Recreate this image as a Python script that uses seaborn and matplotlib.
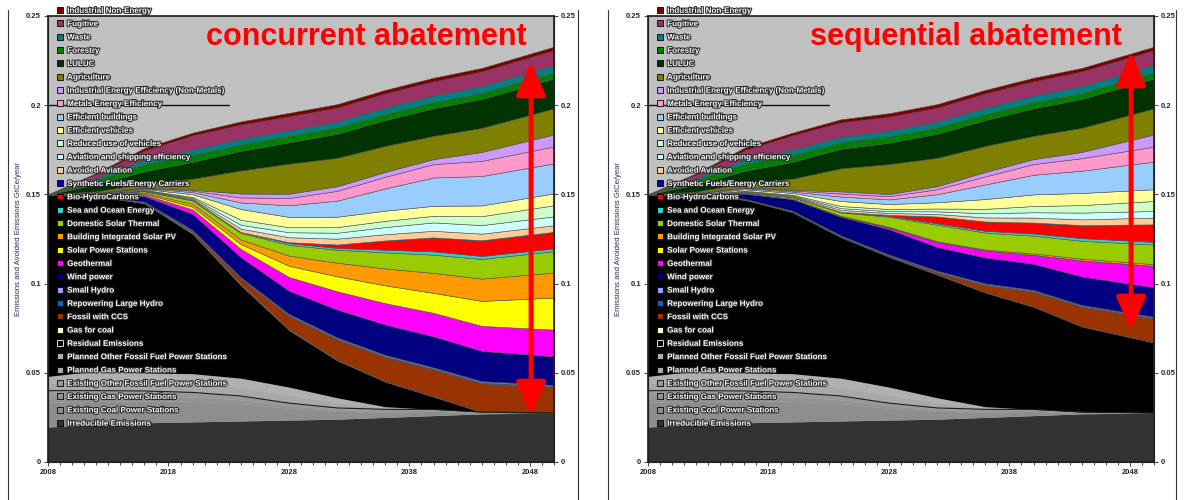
import matplotlib
matplotlib.use('Agg')
import matplotlib.pyplot as plt
import matplotlib.patheffects as pe
from matplotlib.patches import Patch
from matplotlib.lines import Line2D
from matplotlib.ticker import FuncFormatter, MultipleLocator
import numpy as np
import seaborn as sns

sns.set_theme(style='ticks')
plt.rcParams['font.family'] = ['Liberation Sans', 'DejaVu Sans']

years = [2008, 2012, 2016, 2020, 2024, 2028, 2032, 2036, 2040, 2044, 2050]

# shared power station baseline (GtCe/year, band thickness)
irreducible = [0.0196, 0.021, 0.022, 0.0225, 0.023, 0.0235, 0.024, 0.025, 0.026, 0.027, 0.0275]
existing_coal = [0.014, 0.013, 0.0123, 0.0115, 0.0098, 0.0066, 0.0044, 0.003, 0.0024, 0.0007, 0]
existing_gas = [0.003, 0.003, 0.0028, 0.0025, 0.0021, 0.0015, 0.001, 0.0008, 0.0006, 0.0002, 0]
existing_other = [0.0034, 0.003, 0.0027, 0.0025, 0.0021, 0.0014, 0.0009, 0.0007, 0.0005, 0.0001, 0]
planned_gas = [0.004, 0.0055, 0.005, 0.005, 0.005, 0.0045, 0.003, 0.0008, 0, 0, 0]
planned_other = [0.004, 0.0055, 0.0052, 0.0055, 0.005, 0.0045, 0.0027, 0.0007, 0, 0, 0]

# shared non-energy wedges
ind_non_energy = [0, 0.0008, 0.0015, 0.0015, 0.0018, 0.002, 0.002, 0.002, 0.002, 0.002, 0.002]
fugitive = [0, 0.002, 0.005, 0.008, 0.008, 0.0078, 0.0078, 0.008, 0.008, 0.0082, 0.0084]
waste = [0, 0.001, 0.0025, 0.003, 0.003, 0.003, 0.0032, 0.0034, 0.0036, 0.0038, 0.004]
forestry = [0, 0.0025, 0.004, 0.0038, 0.0037, 0.0037, 0.0036, 0.0035, 0.0035, 0.0034, 0.0034]
luluc = [0, 0.004, 0.007, 0.0095, 0.011, 0.012, 0.0135, 0.0145, 0.0155, 0.0162, 0.0168]
agriculture = [0, 0.0007, 0.002, 0.0062, 0.0129, 0.0168, 0.0159, 0.0146, 0.013, 0.0135, 0.0146]

# concurrent abatement
conc_residual = [0.102, 0.098, 0.095, 0.0785, 0.0522, 0.032, 0.021, 0.014, 0.0071, 0, 0]
conc_gas_for_coal = [0, 0, 0.0004, 0.0006, 0.0006, 0.0005, 0.0004, 0.0003, 0.0002, 0.0001, 0]
conc_ccs = [0, 0, 0, 0.0005, 0.0028, 0.0073, 0.0112, 0.0135, 0.015, 0.016, 0.0145]
conc_large_hydro = [0, 0, 0.0003, 0.0005, 0.0005, 0.0006, 0.0006, 0.0006, 0.0006, 0.0006, 0.0006]
conc_small_hydro = [0, 0, 0.0003, 0.0005, 0.0005, 0.0006, 0.0006, 0.0006, 0.0006, 0.0006, 0.0006]
conc_wind = [0, 0.0005, 0.003, 0.009, 0.0112, 0.013, 0.0156, 0.017, 0.0174, 0.017, 0.016]
conc_geothermal = [0, 0.0002, 0.0008, 0.0025, 0.0046, 0.0077, 0.0103, 0.012, 0.0132, 0.014, 0.015]
conc_solar_ps = [0, 0.0001, 0.0006, 0.0015, 0.0028, 0.0063, 0.0084, 0.010, 0.0112, 0.014, 0.018]
conc_bipv = [0, 0.0001, 0.0006, 0.0015, 0.0025, 0.0057, 0.0076, 0.0095, 0.0112, 0.0125, 0.014]
conc_solar_thermal = [0, 0.0002, 0.0008, 0.002, 0.0037, 0.006, 0.0073, 0.009, 0.0102, 0.011, 0.012]
conc_sea = [0, 0, 0.0002, 0.0004, 0.0005, 0.001, 0.001, 0.0015, 0.0019, 0.0017, 0.0015]
conc_bio = [0, 0, 0, 0, 0, 0.0005, 0.0019, 0.005, 0.0075, 0.0085, 0.009]
conc_synfuel = [0, 0, 0, 0, 0, 0, 0, 0.0002, 0.0003, 0.0003, 0.0003]
conc_avoided_aviation = [0, 0.0001, 0.0002, 0.0005, 0.0019, 0.0028, 0.0033, 0.0035, 0.0037, 0.0037, 0.0037]
conc_aviation_eff = [0, 0.0001, 0.0002, 0.0005, 0.0022, 0.0028, 0.0033, 0.004, 0.0047, 0.0048, 0.005]
conc_reduced_use = [0, 0.0001, 0.0002, 0.0006, 0.0028, 0.0028, 0.0032, 0.0035, 0.0037, 0.005, 0.0062]
conc_vehicles = [0, 0.0002, 0.0005, 0.0015, 0.006, 0.0058, 0.0058, 0.0057, 0.0056, 0.006, 0.0067]
conc_buildings = [0, 0.0002, 0.0004, 0.0012, 0.0037, 0.0065, 0.009, 0.0125, 0.0159, 0.0165, 0.0168]
conc_metals_ee = [0, 0.0001, 0.0003, 0.0008, 0.0028, 0.0041, 0.0055, 0.0065, 0.0075, 0.0085, 0.0095]
conc_ind_ee = [0, 0.0001, 0.0002, 0.0005, 0.0022, 0.0024, 0.0026, 0.0027, 0.0028, 0.005, 0.0067]

# sequential abatement
seq_residual = [0.102, 0.098, 0.097, 0.0905, 0.079, 0.073, 0.069, 0.064, 0.0575, 0.048, 0.0395]
seq_gas_for_coal = [0, 0, 0.0002, 0.0002, 0.0002, 0.0002, 0.0002, 0.0001, 0.0001, 0, 0]
seq_ccs = [0, 0, 0, 0, 0, 0.0003, 0.001, 0.004, 0.0083, 0.011, 0.0134]
seq_large_hydro = [0, 0, 0.0002, 0.0003, 0.0004, 0.0004, 0.0005, 0.0005, 0.0005, 0.0005, 0.0005]
seq_small_hydro = [0, 0, 0.0002, 0.0003, 0.0004, 0.0004, 0.0005, 0.0005, 0.0005, 0.0005, 0.0005]
seq_wind = [0, 0.0005, 0.003, 0.0065, 0.0105, 0.0142, 0.0133, 0.0145, 0.0147, 0.016, 0.0165]
seq_geothermal = [0, 0, 0, 0.0002, 0.0003, 0.001, 0.0028, 0.004, 0.005, 0.009, 0.012]
seq_solar_ps = [0, 0, 0, 0, 0, 0, 0, 0, 0, 0, 0]
seq_bipv = [0, 0, 0, 0.0001, 0.0002, 0.0003, 0.0004, 0.0005, 0.0008, 0.001, 0.001]
seq_solar_thermal = [0, 0.0002, 0.0005, 0.0008, 0.0019, 0.0057, 0.0093, 0.0095, 0.010, 0.010, 0.011]
seq_sea = [0, 0, 0.0001, 0.0002, 0.0003, 0.0005, 0.0008, 0.001, 0.0012, 0.0015, 0.0015]
seq_bio = [0, 0, 0, 0, 0, 0.0005, 0.0038, 0.005, 0.0058, 0.007, 0.0095]
seq_synfuel = [0, 0, 0, 0, 0, 0, 0, 0.0002, 0.0003, 0.0003, 0.0003]
seq_avoided_aviation = [0, 0.0001, 0.0003, 0.0004, 0.0011, 0.0011, 0.0014, 0.0023, 0.0028, 0.0032, 0.0038]
seq_aviation_eff = [0, 0.0001, 0.0003, 0.0004, 0.001, 0.001, 0.0015, 0.0023, 0.003, 0.0038, 0.0037]
seq_reduced_use = [0, 0.0001, 0.0003, 0.0004, 0.0012, 0.0012, 0.0016, 0.0025, 0.0035, 0.0042, 0.0056]
seq_vehicles = [0, 0.0003, 0.0008, 0.001, 0.0028, 0.0028, 0.0035, 0.0055, 0.0065, 0.0068, 0.0066]
seq_buildings = [0, 0.0003, 0.0006, 0.0008, 0.0025, 0.0026, 0.0045, 0.0082, 0.011, 0.0125, 0.0155]
seq_metals_ee = [0, 0.0002, 0.0004, 0.0006, 0.0017, 0.0018, 0.0028, 0.0045, 0.006, 0.007, 0.0084]
seq_ind_ee = [0, 0.0001, 0.0003, 0.0004, 0.0012, 0.0012, 0.0017, 0.0025, 0.0028, 0.0035, 0.0068]

# bottom -> top
labels = ['Irreducible Emissions', 'Existing Coal Power Stations', 'Existing Gas Power Stations',
          'Existing Other Fossil Fuel Power Stations', 'Planned Gas Power Stations',
          'Planned Other Fossil Fuel Power Stations', 'Residual Emissions', 'Gas for coal',
          'Fossil with CCS', 'Repowering Large Hydro', 'Small Hydro', 'Wind power', 'Geothermal',
          'Solar Power Stations', 'Building Integrated Solar PV', 'Domestic Solar Thermal',
          'Sea and Ocean Energy', 'Bio-HydroCarbons', 'Synthetic Fuels/Energy Carriers',
          'Avoided Aviation', 'Aviation and shipping efficiency', 'Reduced use of vehicles',
          'Efficient vehicles', 'Efficient buildings', 'Metals Energy Efficiency',
          'Industrial Energy Efficiency (Non-Metals)', 'Agriculture', 'LULUC', 'Forestry',
          'Waste', 'Fugitive', 'Industrial Non-Energy']
colors = ['#333333', '#8e8e8e', '#929292', '#999999', '#a8a8a8', '#b0b0b0', '#000000', '#ffffcc',
          '#993300', '#0066cc', '#9999ff', '#000080', '#ff00ff', '#ffff00', '#ff9900', '#99cc00',
          '#33cccc', '#ff0000', '#0000cc', '#ffcc99', '#ccffff', '#ccffcc', '#ffff99', '#99ccff',
          '#ff99cc', '#cc99ff', '#808000', '#003300', '#008000', '#008080', '#993366', '#800000']

base = [irreducible, existing_coal, existing_gas, existing_other, planned_gas, planned_other]
top = [agriculture, luluc, forestry, waste, fugitive, ind_non_energy]
conc = [conc_residual, conc_gas_for_coal, conc_ccs, conc_large_hydro, conc_small_hydro, conc_wind,
        conc_geothermal, conc_solar_ps, conc_bipv, conc_solar_thermal, conc_sea, conc_bio,
        conc_synfuel, conc_avoided_aviation, conc_aviation_eff, conc_reduced_use, conc_vehicles,
        conc_buildings, conc_metals_ee, conc_ind_ee]
seq = [seq_residual, seq_gas_for_coal, seq_ccs, seq_large_hydro, seq_small_hydro, seq_wind,
       seq_geothermal, seq_solar_ps, seq_bipv, seq_solar_thermal, seq_sea, seq_bio,
       seq_synfuel, seq_avoided_aviation, seq_aviation_eff, seq_reduced_use, seq_vehicles,
       seq_buildings, seq_metals_ee, seq_ind_ee]

fig = plt.figure(figsize=(11.86, 5.0), dpi=100)

# panel frames
for fx in [8, 578, 608, 1176]:
    fig.add_artist(Line2D([fx / 1186, fx / 1186], [0, 0.98], color='#333333', lw=0.8))


def panel(left, series, title, arrow_lo, arrow_hi):
    ax = fig.add_axes([left / 1186, 0.076, 506 / 1186, 0.892])
    ax.set_facecolor('#c0c0c0')
    polys = ax.stackplot(years, *series, colors=colors, edgecolor='#505050', linewidth=0.4)
    for p in polys[:7]:
        p.set_linewidth(0)
    existing_top = np.sum(base[:4], axis=0)
    ax.plot(years, existing_top, color='#1a1a1a', lw=0.8)
    ax.plot([2008, 2023], [0.2, 0.2], color='#111111', lw=1.0, zorder=4)

    ax.set_xlim(2008, 2050)
    ax.set_ylim(0, 0.25)
    ax.set_xticks([2008, 2018, 2028, 2038, 2048])
    ax.xaxis.set_minor_locator(MultipleLocator(1))
    ax.set_yticks([0, 0.05, 0.1, 0.15, 0.2, 0.25])
    fmt = FuncFormatter(lambda v, p: '%g' % round(v, 2))
    ax.yaxis.set_major_formatter(fmt)
    ax.tick_params(which='both', direction='out', width=0.6, labelsize=5.5, pad=2)
    ax.tick_params(which='major', length=3)
    ax.tick_params(which='minor', length=2)
    for s in ['left', 'bottom', 'right']:
        ax.spines[s].set_color('black')
        ax.spines[s].set_linewidth(0.8)
    ax.spines['top'].set_color('#808080')
    ax.spines['top'].set_linewidth(0.5)
    ax.set_ylabel('Emissions and Avoided Emissions GtCe/year', fontsize=5.5, color='#2a2a55', labelpad=3)

    ax2 = ax.twinx()
    ax2.set_ylim(0, 0.25)
    ax2.set_yticks([0, 0.05, 0.1, 0.15, 0.2, 0.25])
    ax2.yaxis.set_major_formatter(fmt)
    ax2.tick_params(direction='out', length=3, width=0.6, labelsize=5.5, pad=2)
    ax2.grid(False)
    for lab in ax.get_xticklabels() + ax.get_yticklabels() + ax2.get_yticklabels():
        lab.set_fontweight('bold')

    ax.text(2034.4, 0.238, title, color='red', fontsize=22, fontweight='bold',
            ha='center', va='center', zorder=6)
    ax.annotate('', xy=(2048.1, arrow_lo), xytext=(2048.1, arrow_hi),
                arrowprops=dict(arrowstyle='<|-|>,head_length=1.0,head_width=0.45',
                                color='red', lw=3.6, shrinkA=0, shrinkB=0, mutation_scale=20),
                zorder=6)

    handles = []
    for lab, c in zip(labels, colors):
        ec = 'white' if lab == 'Residual Emissions' else 'black'
        handles.append(Patch(facecolor=c, edgecolor=ec, linewidth=0.6))
    leg = ax.legend(handles[::-1], labels[::-1], loc='upper left', bbox_to_anchor=(0.018, 1.02),
                    frameon=False, fontsize=5.8, labelspacing=0.69, handlelength=0.75,
                    handleheight=0.75, handletextpad=0.5, borderpad=0, borderaxespad=0)
    for t in leg.get_texts():
        t.set_color('white')
        t.set_fontweight('bold')
        t.set_path_effects([pe.withStroke(linewidth=1.5, foreground='#222222')])
    leg.set_zorder(7)
    return ax


panel(48, base + conc + top, 'concurrent abatement', 0.0263, 0.2242)
panel(648, base + seq + top, 'sequential abatement', 0.074, 0.2298)

fig.savefig('out.png', dpi=100)
